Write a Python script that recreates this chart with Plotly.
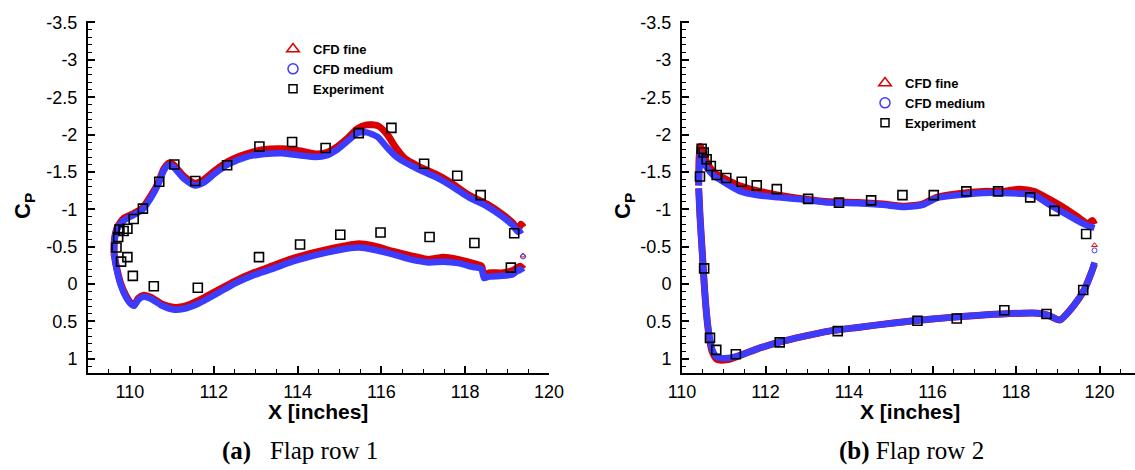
import plotly.graph_objects as go

# ---------------- Panel (a): Flap row 1 ----------------
a_up_fine_x = [109.62, 109.63, 109.70, 109.85, 110.07, 110.29, 110.51, 110.68, 110.81, 110.94, 111.03, 111.29,
               111.55, 111.77, 112.03, 112.34, 112.77, 113.21, 113.64, 114.08, 114.43, 114.69, 114.95, 115.21,
               115.43, 115.65, 115.91, 116.13, 116.34, 116.56, 116.87, 117.30, 117.65, 118.09, 118.52, 118.87,
               119.13, 119.26, 119.33, 119.39]
a_up_fine_y = [-0.41, -0.59, -0.76, -0.88, -0.94, -1.01, -1.19, -1.36, -1.54, -1.62, -1.60, -1.44,
               -1.35, -1.40, -1.52, -1.64, -1.74, -1.80, -1.81, -1.78, -1.74, -1.76, -1.84, -1.96,
               -2.08, -2.13, -2.12, -2.01, -1.83, -1.68, -1.58, -1.47, -1.36, -1.19, -1.07, -0.94,
               -0.82, -0.73, -0.80, -0.76]
a_up_med_x = [109.62, 109.63, 109.70, 109.85, 110.07, 110.29, 110.51, 110.68, 110.81, 110.92, 111.03, 111.29,
              111.55, 111.77, 112.03, 112.34, 112.77, 113.21, 113.64, 114.08, 114.43, 114.69, 114.95, 115.21,
              115.43, 115.65, 115.91, 116.13, 116.34, 116.56, 116.87, 117.30, 117.65, 118.09, 118.52, 118.87,
              119.13, 119.26, 119.36]
a_up_med_y = [-0.41, -0.59, -0.74, -0.85, -0.92, -0.99, -1.16, -1.34, -1.52, -1.59, -1.57, -1.41,
              -1.32, -1.36, -1.48, -1.60, -1.70, -1.74, -1.75, -1.72, -1.70, -1.72, -1.80, -1.92,
              -2.02, -2.03, -1.97, -1.83, -1.71, -1.63, -1.54, -1.43, -1.32, -1.16, -1.04, -0.91,
              -0.79, -0.70, -0.73]
a_lo_fine_x = [109.62, 109.68, 109.78, 109.90, 110.03, 110.10, 110.20, 110.33, 110.51, 110.77, 111.03, 111.29,
               111.64, 112.07, 112.51, 112.95, 113.38, 113.82, 114.25, 114.69, 115.12, 115.47, 115.82, 116.26,
               116.69, 117.13, 117.48, 117.83, 118.17, 118.39, 118.45, 118.57, 118.87, 119.13, 119.31, 119.39]
a_lo_fine_y = [-0.41, -0.23, -0.01, 0.15, 0.26, 0.28, 0.19, 0.15, 0.18, 0.27, 0.31, 0.30,
               0.22, 0.09, -0.04, -0.15, -0.24, -0.33, -0.40, -0.46, -0.51, -0.54, -0.51, -0.44,
               -0.38, -0.33, -0.36, -0.33, -0.28, -0.24, -0.12, -0.15, -0.15, -0.18, -0.24, -0.20]
a_lo_med_x = [109.62, 109.68, 109.78, 109.90, 110.03, 110.10, 110.20, 110.33, 110.51, 110.77, 111.03, 111.29,
              111.64, 112.07, 112.51, 112.95, 113.38, 113.82, 114.25, 114.69, 115.12, 115.47, 115.82, 116.26,
              116.69, 117.13, 117.48, 117.83, 118.17, 118.39, 118.45, 118.57, 118.87, 119.13, 119.31, 119.37]
a_lo_med_y = [-0.41, -0.21, 0.01, 0.17, 0.27, 0.29, 0.21, 0.17, 0.20, 0.29, 0.34, 0.33,
              0.26, 0.13, -0.01, -0.12, -0.20, -0.29, -0.36, -0.42, -0.47, -0.49, -0.46, -0.40,
              -0.33, -0.29, -0.30, -0.28, -0.23, -0.20, -0.08, -0.10, -0.11, -0.13, -0.20, -0.16]
a_te_x = [119.38]
a_te_fine_y = [-0.38]
a_te_med_y = [-0.37]
a_exp_x = [109.68, 109.72, 109.75, 109.85, 109.94, 110.09, 110.31, 110.70, 111.06, 111.56, 112.32, 113.09,
           113.87, 114.67, 115.46, 116.24, 117.02, 117.81, 118.37, 119.17,
           109.79, 109.94, 110.07, 110.57, 111.62, 113.08, 114.06, 115.02, 115.98, 117.15, 118.22, 119.09]
a_exp_y = [-0.49, -0.63, -0.73, -0.71, -0.74, -0.87, -1.01, -1.37, -1.60, -1.38, -1.59, -1.84,
           -1.90, -1.82, -2.02, -2.09, -1.61, -1.45, -1.19, -0.68,
           -0.30, -0.36, -0.11, 0.03, 0.05, -0.36, -0.53, -0.66, -0.69, -0.63, -0.55, -0.22]

# ---------------- Panel (b): Flap row 2 ----------------
b_up_fine_x = [110.40, 110.41, 110.44, 110.50, 110.59, 110.76, 111.02, 111.36, 111.79, 112.31, 112.91, 113.52,
               114.21, 114.81, 115.33, 115.76, 116.10, 116.62, 117.22, 117.66, 118.09, 118.43, 118.78, 119.12,
               119.47, 119.72, 119.83, 119.88]
b_up_fine_y = [-1.32, -1.68, -1.84, -1.77, -1.63, -1.50, -1.41, -1.32, -1.25, -1.19, -1.14, -1.10,
               -1.09, -1.07, -1.04, -1.07, -1.16, -1.21, -1.24, -1.24, -1.27, -1.24, -1.14, -1.03,
               -0.90, -0.81, -0.85, -0.80]
b_up_med_x = [110.40, 110.42, 110.44, 110.50, 110.59, 110.76, 110.93, 111.36, 111.79, 112.31, 112.91, 113.52,
              114.21, 114.81, 115.33, 115.76, 116.10, 116.62, 117.22, 117.66, 118.09, 118.43, 118.78, 119.12,
              119.47, 119.72, 119.88]
b_up_med_y = [-1.32, -1.62, -1.74, -1.66, -1.56, -1.45, -1.39, -1.25, -1.19, -1.16, -1.13, -1.09,
              -1.08, -1.06, -1.03, -1.06, -1.15, -1.19, -1.22, -1.22, -1.21, -1.19, -1.07, -0.96,
              -0.85, -0.78, -0.75]
b_lo_fine_x = [110.40, 110.43, 110.48, 110.53, 110.57, 110.63, 110.72, 110.84, 111.10, 111.36, 111.79, 112.31,
               112.91, 113.52, 114.21, 115.07, 115.93, 116.79, 117.66, 118.52, 118.78, 119.05, 119.38, 119.64,
               119.81, 119.88]
b_lo_fine_y = [-1.28, -0.92, -0.47, -0.02, 0.29, 0.62, 0.90, 1.01, 1.01, 0.96, 0.87, 0.78,
               0.70, 0.63, 0.58, 0.52, 0.47, 0.43, 0.40, 0.39, 0.42, 0.48, 0.29, 0.07,
               -0.16, -0.27]
b_lo_med_x = [110.40, 110.43, 110.48, 110.53, 110.57, 110.63, 110.72, 110.84, 111.10, 111.36, 111.79, 112.31,
              112.91, 113.52, 114.21, 115.07, 115.93, 116.79, 117.66, 118.52, 118.78, 119.05, 119.38, 119.64,
              119.81, 119.88]
b_lo_med_y = [-1.28, -0.92, -0.47, -0.02, 0.29, 0.60, 0.87, 0.98, 0.99, 0.96, 0.87, 0.78,
              0.70, 0.63, 0.58, 0.52, 0.47, 0.43, 0.40, 0.39, 0.42, 0.48, 0.29, 0.07,
              -0.16, -0.29]
b_te_x = [119.88]
b_te_fine_y = [-0.52]
b_te_med_y = [-0.45]
b_exp_x = [110.43, 110.47, 110.52, 110.59, 110.69, 110.83, 111.06, 111.43, 111.79, 112.27, 113.02, 113.76,
           114.53, 115.28, 116.03, 116.81, 117.57, 118.34, 118.92, 119.68,
           110.53, 110.67, 110.82, 111.29, 112.34, 113.73, 115.64, 116.58, 117.72, 118.73, 119.61]
b_exp_y = [-1.44, -1.81, -1.76, -1.67, -1.58, -1.46, -1.42, -1.37, -1.32, -1.27, -1.14, -1.09,
           -1.12, -1.19, -1.19, -1.24, -1.24, -1.16, -0.98, -0.67,
           -0.21, 0.72, 0.88, 0.94, 0.78, 0.63, 0.49, 0.46, 0.35, 0.40, 0.08]

# ---------------- axis ticks / labels ----------------
y_tick_vals = [-3.5, -3, -2.5, -2, -1.5, -1, -0.5, 0, 0.5, 1]
y_tick_text = ["-3.5", "-3", "-2.5", "-2", "-1.5", "-1", "-0.5", "0", "0.5", "1"]
x_tick_vals = [110, 112, 114, 116, 118, 120]
x_tick_text = ["110", "112", "114", "116", "118", "120"]
series_names = ["CFD fine", "CFD medium", "Experiment"]
captions = ["<b>(a)</b>   Flap row 1", "<b>(b)</b> Flap row 2"]

RED = "#d80000"
BLUE = "#3c3cff"
W, H = 1135, 470

fig = go.Figure()


def add_panel(xa, ya, legend, up_f, up_m, lo_f, lo_m, te_x, te_f, te_m, ex, ey):
    for (xs, ys) in (up_f, lo_f):
        fig.add_trace(go.Scatter(x=xs, y=ys, mode="lines", line=dict(color=RED, width=7, shape="spline", smoothing=0.6),
                                 xaxis=xa, yaxis=ya, showlegend=False, hoverinfo="skip"))
    for (xs, ys) in (up_m, lo_m):
        fig.add_trace(go.Scatter(x=xs, y=ys, mode="lines", line=dict(color=BLUE, width=6.5, shape="spline", smoothing=0.6),
                                 xaxis=xa, yaxis=ya, showlegend=False, hoverinfo="skip"))
    fig.add_trace(go.Scatter(x=te_x, y=te_f, mode="markers",
                             marker=dict(symbol="triangle-up-open", color=RED, size=5, line=dict(width=1)),
                             xaxis=xa, yaxis=ya, showlegend=False))
    fig.add_trace(go.Scatter(x=te_x, y=te_m, mode="markers",
                             marker=dict(symbol="circle-open", color=BLUE, size=5, line=dict(width=1)),
                             xaxis=xa, yaxis=ya, showlegend=False))
    fig.add_trace(go.Scatter(x=ex, y=ey, mode="markers",
                             marker=dict(symbol="square-open", color="black", size=9, line=dict(width=1.6)),
                             xaxis=xa, yaxis=ya, showlegend=False))
    # legend entries
    fig.add_trace(go.Scatter(x=[None], y=[None], mode="markers", name=series_names[0],
                             marker=dict(symbol="triangle-up-open", color=RED, size=11, line=dict(width=1.5)),
                             xaxis=xa, yaxis=ya, legend=legend))
    fig.add_trace(go.Scatter(x=[None], y=[None], mode="markers", name=series_names[1],
                             marker=dict(symbol="circle-open", color=BLUE, size=10, line=dict(width=1.5)),
                             xaxis=xa, yaxis=ya, legend=legend))
    fig.add_trace(go.Scatter(x=[None], y=[None], mode="markers", name=series_names[2],
                             marker=dict(symbol="square-open", color="black", size=8, line=dict(width=1.5)),
                             xaxis=xa, yaxis=ya, legend=legend))


add_panel("x", "y", "legend", (a_up_fine_x, a_up_fine_y), (a_up_med_x, a_up_med_y),
          (a_lo_fine_x, a_lo_fine_y), (a_lo_med_x, a_lo_med_y), a_te_x, a_te_fine_y, a_te_med_y, a_exp_x, a_exp_y)
add_panel("x2", "y2", "legend2", (b_up_fine_x, b_up_fine_y), (b_up_med_x, b_up_med_y),
          (b_lo_fine_x, b_lo_fine_y), (b_lo_med_x, b_lo_med_y), b_te_x, b_te_fine_y, b_te_med_y, b_exp_x, b_exp_y)

tickfont = dict(family="Arial", size=18, color="black")
y_dom = [1 - 373 / H, 1 - 21 / H]


def xaxis(dom, rng, anchor):
    return dict(domain=dom, range=rng, anchor=anchor, showline=True, linecolor="black", linewidth=2,
                ticks="inside", ticklen=7, tickwidth=1.5, tickcolor="black",
                tickmode="array", tickvals=x_tick_vals, ticktext=x_tick_text,
                minor=dict(ticks="inside", ticklen=4, tickwidth=1, tickcolor="black", tickmode="linear",
                           tick0=110, dtick=0.5, showgrid=False),
                showgrid=False, zeroline=False, tickfont=tickfont, ticklabelstandoff=1, automargin=False)


def yaxis(anchor):
    return dict(domain=y_dom, range=[1.19, -3.52], anchor=anchor, showline=True, linecolor="black", linewidth=2,
                ticks="inside", ticklen=7, tickwidth=1.5, tickcolor="black",
                tickmode="array", tickvals=y_tick_vals, ticktext=y_tick_text,
                minor=dict(ticks="inside", ticklen=4, tickwidth=1, tickcolor="black", tickmode="linear",
                           tick0=0, dtick=0.1, showgrid=False),
                showgrid=False, zeroline=False, tickfont=tickfont, ticklabelstandoff=5, automargin=False)


legend_font = dict(family="Arial", size=13, color="black", weight="bold")
fig.update_layout(
    width=W, height=H, autosize=False,
    margin=dict(l=0, r=0, t=0, b=0, autoexpand=False),
    paper_bgcolor="white", plot_bgcolor="white",
    xaxis=xaxis([88 / W, 549 / W], [109, 120], "y"),
    yaxis=yaxis("x"),
    xaxis2=xaxis([682 / W, 1.0], [110, 120.85], "y2"),
    yaxis2=yaxis("x2"),
    legend=dict(x=273 / W, y=1 - 34 / H, xanchor="left", yanchor="top", font=legend_font,
                bgcolor="rgba(0,0,0,0)", borderwidth=0, tracegroupgap=0, itemsizing="trace"),
    legend2=dict(x=865 / W, y=1 - 68 / H, xanchor="left", yanchor="top", font=legend_font,
                 bgcolor="rgba(0,0,0,0)", borderwidth=0, tracegroupgap=0, itemsizing="trace"),
    showlegend=True,
)

annotations = []
for cx, cap in ((300, captions[0]), (911, captions[1])):
    annotations.append(dict(text=cap, x=cx / W, y=1 - 451 / H, xref="paper", yref="paper",
                            xanchor="center", yanchor="middle", showarrow=False,
                            font=dict(family="Times New Roman", size=25, color="black")))
for cx in (318, 910):
    annotations.append(dict(text="<b>X [inches]</b>", x=cx / W, y=1 - 411 / H, xref="paper", yref="paper",
                            xanchor="center", yanchor="middle", showarrow=False,
                            font=dict(family="Arial", size=21, color="black")))
for cx in (24, 624):
    annotations.append(dict(text="<b>C<sub>P</sub></b>", x=cx / W, y=1 - 206 / H, xref="paper", yref="paper",
                            xanchor="center", yanchor="middle", showarrow=False, textangle=-90,
                            font=dict(family="Arial", size=22, color="black")))
fig.update_layout(annotations=annotations)

fig.write_html("out.html", config={"displayModeBar": False},
               post_script="document.body.style.margin='0';document.body.style.padding='0';")
